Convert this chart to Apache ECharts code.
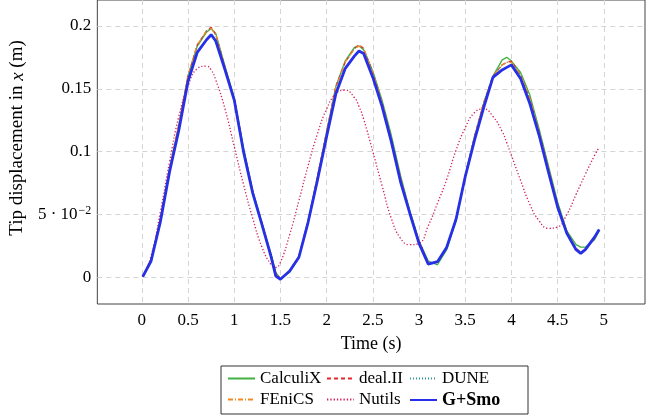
<!DOCTYPE html>
<html>
<head>
<meta charset="utf-8">
<script src="https://cdn.jsdelivr.net/npm/echarts@6/dist/echarts.min.js"></script>
<style>
html, body { margin: 0; padding: 0; background: #fff; }
#chart { width: 646px; height: 415px; }
</style>
</head>
<body>
<div id="chart"></div>
<script>
// time samples (s), shared by every series
const time = [0.01, 0.1, 0.2, 0.3, 0.4, 0.5, 0.6, 0.7, 0.75, 0.8,
  0.9, 1.0, 1.1, 1.2, 1.3, 1.4, 1.45, 1.5, 1.6, 1.7,
  1.8, 1.9, 2.0, 2.1, 2.2, 2.3, 2.35, 2.4, 2.5, 2.6,
  2.7, 2.8, 2.9, 3.0, 3.1, 3.2, 3.3, 3.4, 3.5, 3.6,
  3.7, 3.8, 3.9, 3.95, 4.0, 4.1, 4.2, 4.3, 4.4, 4.5,
  4.6, 4.7, 4.75, 4.8, 4.9, 4.95]

// tip displacement in x (m)
const calculix = [0.0005, 0.014, 0.046, 0.086, 0.121, 0.160, 0.184, 0.195, 0.198, 0.194,
  0.168, 0.143, 0.103, 0.069, 0.043, 0.018, 0.004, -0.001, 0.004, 0.016,
  0.044, 0.079, 0.115, 0.152, 0.172, 0.183, 0.184, 0.181, 0.164, 0.141,
  0.113, 0.081, 0.053, 0.029, 0.013, 0.010, 0.022, 0.045, 0.080, 0.111,
  0.138, 0.160, 0.173, 0.175, 0.172, 0.163, 0.145, 0.118, 0.089, 0.060,
  0.037, 0.026, 0.024, 0.024, 0.030, 0.037]
const dealii = [0.0005, 0.014, 0.046, 0.086, 0.121, 0.160, 0.185, 0.196, 0.199, 0.193,
  0.167, 0.142, 0.102, 0.068, 0.043, 0.017, 0.003, -0.001, 0.005, 0.017,
  0.045, 0.080, 0.116, 0.152, 0.171, 0.182, 0.185, 0.182, 0.163, 0.139,
  0.110, 0.079, 0.052, 0.029, 0.011, 0.012, 0.024, 0.046, 0.081, 0.112,
  0.139, 0.160, 0.169, 0.171, 0.172, 0.161, 0.142, 0.116, 0.087, 0.058,
  0.036, 0.023, 0.020, 0.022, 0.031, 0.038]
const dune = [0.0005, 0.014, 0.046, 0.086, 0.121, 0.160, 0.184, 0.196, 0.198, 0.193,
  0.167, 0.142, 0.102, 0.068, 0.043, 0.017, 0.003, -0.001, 0.005, 0.017,
  0.045, 0.080, 0.116, 0.151, 0.171, 0.182, 0.184, 0.182, 0.163, 0.139,
  0.110, 0.079, 0.052, 0.029, 0.011, 0.012, 0.024, 0.046, 0.081, 0.112,
  0.139, 0.160, 0.169, 0.171, 0.171, 0.161, 0.142, 0.116, 0.087, 0.058,
  0.036, 0.023, 0.020, 0.022, 0.031, 0.038]
const fenics = [0.0005, 0.014, 0.046, 0.087, 0.122, 0.161, 0.185, 0.196, 0.198, 0.193,
  0.167, 0.142, 0.102, 0.068, 0.043, 0.017, 0.003, -0.001, 0.005, 0.017,
  0.045, 0.080, 0.116, 0.151, 0.171, 0.182, 0.184, 0.182, 0.163, 0.139,
  0.110, 0.079, 0.052, 0.029, 0.011, 0.012, 0.024, 0.046, 0.081, 0.112,
  0.139, 0.160, 0.169, 0.171, 0.171, 0.161, 0.142, 0.116, 0.087, 0.058,
  0.036, 0.023, 0.020, 0.022, 0.031, 0.038]
const nutils = [0.0005, 0.017, 0.052, 0.092, 0.128, 0.152, 0.166, 0.168, 0.165, 0.157,
  0.134, 0.104, 0.074, 0.047, 0.024, 0.010, 0.008, 0.012, 0.034, 0.061,
  0.089, 0.114, 0.134, 0.146, 0.149, 0.143, 0.136, 0.126, 0.100, 0.073,
  0.047, 0.031, 0.026, 0.027, 0.041, 0.059, 0.078, 0.101, 0.119, 0.131,
  0.134, 0.128, 0.116, 0.107, 0.097, 0.077, 0.058, 0.045, 0.039, 0.040,
  0.050, 0.066, 0.074, 0.082, 0.097, 0.1035]
const gsmo = [0.0005, 0.013, 0.044, 0.084, 0.117, 0.156, 0.179, 0.189, 0.193, 0.188,
  0.165, 0.141, 0.100, 0.067, 0.042, 0.016, 0.001, -0.0015, 0.005, 0.016,
  0.044, 0.077, 0.112, 0.146, 0.166, 0.176, 0.180, 0.178, 0.159, 0.136,
  0.108, 0.076, 0.051, 0.027, 0.0105, 0.0125, 0.024, 0.046, 0.080, 0.109,
  0.135, 0.159, 0.165, 0.167, 0.169, 0.158, 0.138, 0.113, 0.084, 0.056,
  0.035, 0.022, 0.019, 0.022, 0.032, 0.038]

// ticks
const xTicks = [0, 0.5, 1, 1.5, 2, 2.5, 3, 3.5, 4, 4.5, 5]
const yTicks = [0, 0.05, 0.1, 0.15, 0.2]
const yTickLabels = ['0', '{n|5 · 10}{s|−2}', '0.1', '0.15', '0.2']

const names = ['CalculiX', 'deal.II', 'DUNE', 'FEniCS', 'Nutils', 'G+Smo']

const serif = 'Liberation Serif'
const pairs = (ys) => time.map((t, i) => [t, ys[i]])

const chart = echarts.init(document.getElementById('chart'))

function lineSeries(name, ys, color, type, width, smooth) {
  return {
    name: name,
    type: 'line',
    data: pairs(ys),
    symbol: 'none',
    smooth: smooth,
    color: color,
    lineStyle: { color: color, width: width, type: type },
    z: name === 'G+Smo' ? 5 : 3,
    animation: false
  }
}

// one legend per item, laid out as a 3x2 table
const legendPos = [
  [227, 370], [326, 370], [409, 370],
  [227, 391], [326, 391], [409, 391]
]
const legends = names.map((n, i) => ({
  data: [n],
  left: legendPos[i][0],
  top: legendPos[i][1],
  padding: 0,
  itemWidth: 27,
  itemHeight: 14,
  selectedMode: false,
  itemStyle: { opacity: 0, borderWidth: 0 },
  textStyle: {
    fontFamily: serif,
    fontSize: n === 'G+Smo' ? 18 : 17,
    color: '#000',
    fontWeight: n === 'G+Smo' ? 'bold' : 'normal'
  }
}))

chart.setOption({
  animation: false,
  grid: {
    left: 92,
    right: 1,
    top: -1,
    bottom: 111,
    show: true,
    borderColor: '#444',
    borderWidth: 1
  },
  legend: legends,
  graphic: [{
    type: 'rect',
    shape: { x: 221, y: 366, width: 307, height: 48 },
    style: { fill: 'none', stroke: '#333', lineWidth: 1 }
  }],
  xAxis: {
    type: 'value',
    min: -0.482,
    max: 5.446,
    name: 'Time (s)',
    nameLocation: 'middle',
    nameGap: 31,
    nameTextStyle: { fontFamily: serif, fontSize: 18, color: '#000' },
    axisLine: { show: false },
    axisTick: { show: false, customValues: xTicks },
    axisLabel: {
      customValues: xTicks,
      fontFamily: serif,
      fontSize: 17,
      color: '#000',
      margin: 8,
      formatter: (v) => String(v)
    },
    splitLine: { show: true, lineStyle: { color: '#d4d4d4', type: [5, 4], width: 1 } }
  },
  yAxis: {
    type: 'value',
    min: -0.0212,
    max: 0.2206,
    name: '{r|Tip displacement in }{i|x}{r| (m)}',
    nameLocation: 'middle',
    nameGap: 70,
    nameTextStyle: {
      padding: [0, 0, 0, 28],
      rich: {
        r: { fontFamily: serif, fontSize: 19, color: '#000' },
        i: { fontFamily: serif, fontSize: 19, color: '#000', fontStyle: 'italic' }
      }
    },
    axisLine: { show: false },
    axisTick: { show: false, customValues: yTicks },
    axisLabel: {
      customValues: yTicks,
      fontFamily: serif,
      fontSize: 17,
      color: '#000',
      margin: 6,
      formatter: (v) => yTickLabels[yTicks.indexOf(v)] ?? '',
      rich: {
        n: { fontFamily: serif, fontSize: 17, color: '#000' },
        s: { fontFamily: serif, fontSize: 12, color: '#000', verticalAlign: 'top', padding: [0, 0, 8, 1] }
      }
    },
    splitLine: { show: true, lineStyle: { color: '#d4d4d4', type: [5, 4], width: 1 } }
  },
  series: [
    lineSeries('CalculiX', calculix, '#41b141', 'solid', 1.3, false),
    lineSeries('deal.II', dealii, '#e3262b', [4, 3], 1.3, false),
    lineSeries('DUNE', dune, '#2a9d8f', [1, 2], 1.3, false),
    lineSeries('FEniCS', fenics, '#f08a24', [5, 2, 1, 2], 1.3, false),
    lineSeries('Nutils', nutils, '#d41f5a', [1.3, 2], 1.3, true),
    lineSeries('G+Smo', gsmo, '#2630e6', 'solid', 2.8, false)
  ]
})
</script>
</body>
</html>
